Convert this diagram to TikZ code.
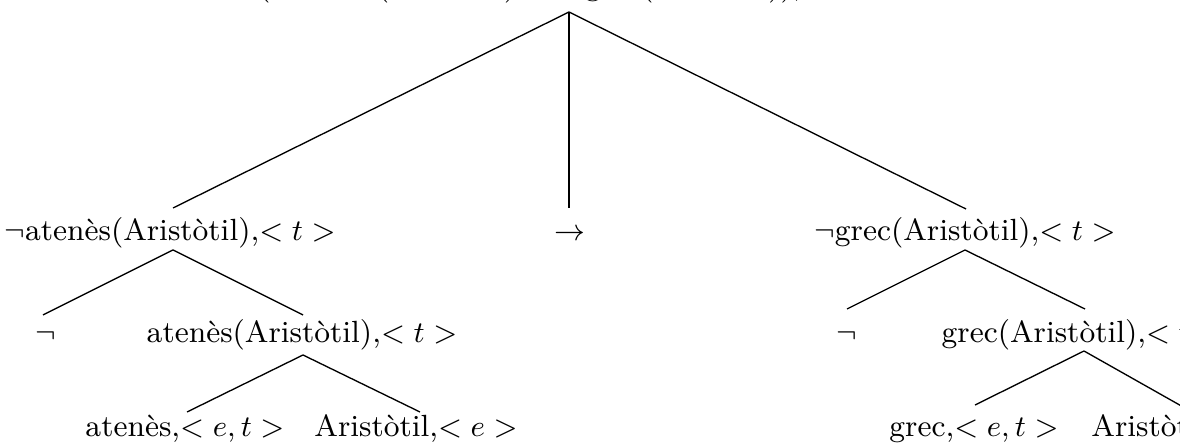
\documentclass[tikz,border=0pt]{standalone}
\begin{document}
\begin{tikzpicture}[x=0.3pt,y=-0.3pt,
  lbl/.style={anchor=base,inner sep=0pt,font=\fontsize{9.2}{11}\selectfont},
  edge/.style={line width=0.4pt}]
\useasboundingbox (0,0) rectangle (1180,445);
\clip (0,0) rectangle (1180,445);
% nodes
\node[lbl] (root) at (568,-4) {($\neg$atenès(Aristòtil)${}\rightarrow\neg$grec(Aristòtil)),$< t >$};
\node[lbl] (na) at (170,241) {$\neg$atenès(Aristòtil),$< t >$};
\node[lbl] (imp) at (570,241) {$\rightarrow$};
\node[lbl] (ng) at (965,241) {$\neg$grec(Aristòtil),$< t >$};
\node[lbl] (negA) at (46,343) {$\neg$};
\node[lbl] (a) at (302,343) {atenès(Aristòtil),$< t >$};
\node[lbl] (negG) at (847,343) {$\neg$};
\node[lbl] (g) at (1082,343) {grec(Aristòtil),$< t >$};
\node[lbl] (aP) at (185,437) {atenès,$< e, t >$};
\node[lbl] (aA) at (416,437) {Aristòtil,$< e >$};
\node[lbl] (gP) at (974,437) {grec,$< e, t >$};
\node[lbl] (gA) at (1193,437) {Aristòtil,$< e >$};
% connector anchors
\coordinate (root-s) at (569,12);
\coordinate (na-n) at (173,208);
\coordinate (imp-n) at (569,208);
\coordinate (ng-n) at (966,209);
\coordinate (na-s) at (173,250);
\coordinate (negA-n) at (43,315);
\coordinate (a-n) at (303,315);
\coordinate (ng-s) at (965,250);
\coordinate (negG-n) at (847,309);
\coordinate (g-n) at (1085,309);
\coordinate (a-s) at (303,355);
\coordinate (aP-n) at (187,412);
\coordinate (aA-n) at (420,412);
\coordinate (g-s) at (1084,351);
\coordinate (gP-n) at (975,405);
\coordinate (gA-n) at (1192,412);
% connectors
\draw[edge] (root-s) -- (na-n);
\draw[edge] (root-s) -- (imp-n);
\draw[edge] (root-s) -- (ng-n);
\draw[edge] (na-s) -- (negA-n);
\draw[edge] (na-s) -- (a-n);
\draw[edge] (ng-s) -- (negG-n);
\draw[edge] (ng-s) -- (g-n);
\draw[edge] (a-s) -- (aP-n);
\draw[edge] (a-s) -- (aA-n);
\draw[edge] (g-s) -- (gP-n);
\draw[edge] (g-s) -- (gA-n);
\end{tikzpicture}
\end{document}
